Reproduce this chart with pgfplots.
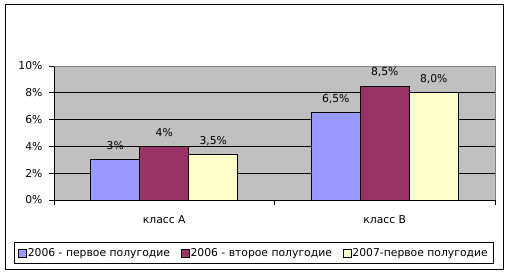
\documentclass[border=0pt]{standalone}
\usepackage{pgfplots}
\pgfplotsset{compat=1.18}
\usepackage{fontspec}
\setmainfont{DejaVu Sans}
\definecolor{cBlue}{HTML}{9999FF}
\definecolor{cMaroon}{HTML}{993366}
\definecolor{cYellow}{HTML}{FFFFCC}
\definecolor{cBg}{HTML}{C0C0C0}
\definecolor{cBorder}{HTML}{808080}
\begin{document}
\begin{tikzpicture}[font=\fontsize{10.8bp}{13bp}\selectfont]
\path (0bp,0bp) rectangle (511bp,276bp);
\draw[line width=1bp] (5.5bp,6bp) rectangle (503bp,271bp);
\begin{axis}[
  at={(54bp,76bp)}, anchor=south west,
  width=441bp, height=134bp, scale only axis,
  xmin=-0.5, xmax=1.5, ymin=0, ymax=10,
  axis x line*=bottom, axis y line*=left,
  axis line style={black, line width=0.8bp},
  axis background/.style={fill=cBg, draw=cBorder, line width=0.8bp},
  xtick={0,1}, xticklabels={класс A, класс B},
  minor xtick={-0.5,0.5,1.5},
  major x tick style={draw=none},
  minor tick length=5bp, major tick length=5bp,
  tick align=outside,
  tick style={black, line width=0.8bp},
  ytick={0,2,4,6,8,10},
  yticklabels={0\%,2\%,4\%,6\%,8\%,10\%},
  yticklabel style={xshift=-3bp},
  xticklabel style={yshift=-7.5bp},
  ymajorgrids, grid style={black, line width=0.8bp},
  ybar=0pt, bar width=49bp,
  point meta=explicit symbolic,
  nodes near coords={\pgfplotspointmeta},
  every node near coord/.append style={font=\fontsize{10.8bp}{13bp}\selectfont, text=black, yshift=6.5bp, text depth=0pt},
  legend columns=3,
  legend style={at={(axis description cs:0.4524,-0.3955)}, anchor=center,
    draw=black, line width=0.8bp, fill=white, font=\fontsize{10.8bp}{13bp}\selectfont,
    inner xsep=4bp, inner ysep=4bp,
    nodes={inner xsep=1.2bp},
    /tikz/every odd column/.append style={column sep=0bp},
    /tikz/every even column/.append style={column sep=9.5bp}},
  legend image code/.code={\draw[#1, draw=black, line width=0.6bp] (0bp,-4bp) rectangle (8bp,4bp);},
]
\addplot[fill=cBlue, draw=black, line width=0.8bp] coordinates {(0,3) [3\%] (1,6.5) [{6,5\%}]};
\addplot[fill=cMaroon, draw=black, line width=0.8bp] coordinates {(0,4) [4\%] (1,8.5) [{8,5\%}]};
\addplot[fill=cYellow, draw=black, line width=0.8bp] coordinates {(0,3.4) [{3,5\%}] (1,8.0) [{8,0\%}]};
\legend{2006 - первое полугодие, 2006 - второе полугодие, 2007-первое полугодие}
\draw[cBorder, line width=0.8bp] (rel axis cs:0,1) -- (rel axis cs:1,1);
\end{axis}
\end{tikzpicture}
\end{document}
